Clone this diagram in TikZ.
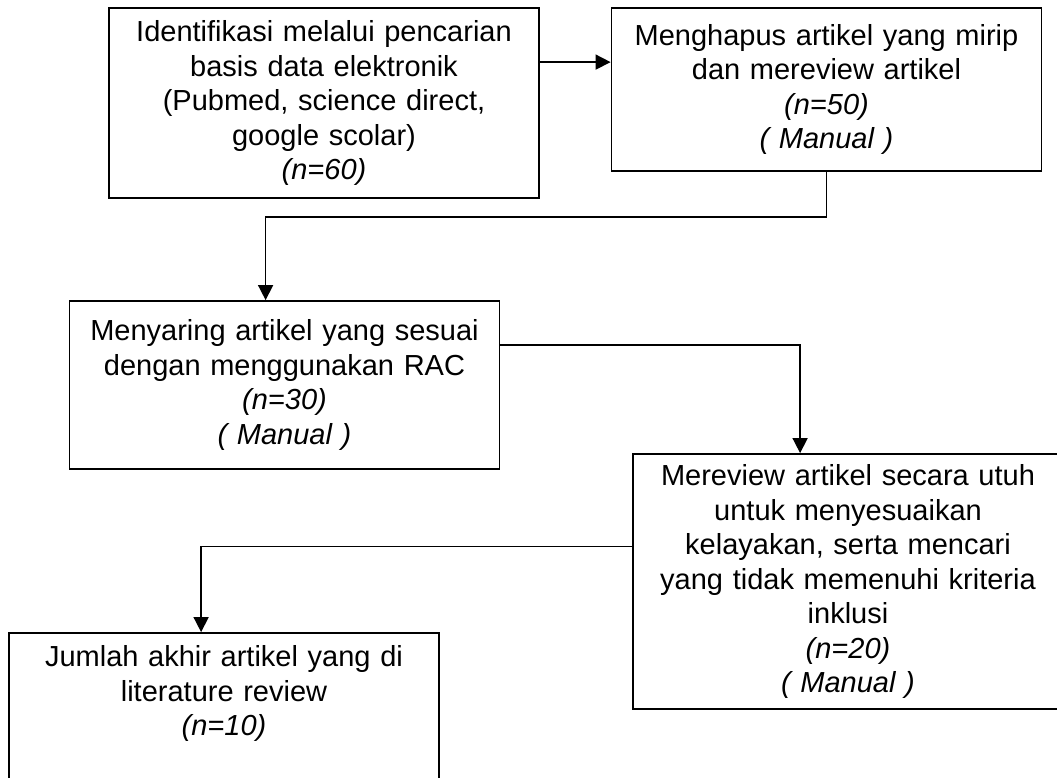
\documentclass[tikz,border=0pt]{standalone}
\usepackage{fontspec}
\setmainfont{Liberation Sans}
\usetikzlibrary{arrows.meta,calc}
\begin{document}
\begin{tikzpicture}[x=1pt,y=1pt,
  flowbox/.style={draw=black,line width=1.8pt,rectangle,align=center,
    inner sep=2pt,text width=420pt,minimum width=430pt,
    font=\fontsize{29}{34.5}\selectfont},
  conn/.style={line width=1.6pt,-{Triangle[length=15pt,width=15pt]}}]
\useasboundingbox (0,0) rectangle (1057,-778);
\clip (0,0) rectangle (1057,-778);
\node[flowbox,minimum height=190pt] (b1) at (324,-103)
  {Identifikasi melalui pencarian\\basis data elektronik\\(Pubmed, science direct,\\google scolar)\\\textit{(n=60)}};
\node[flowbox,minimum height=163pt] (b2) at (826.5,-89.5)
  {Menghapus artikel yang mirip\\dan mereview artikel\\\textit{(n=50)}\\\textit{( Manual )}};
\node[flowbox,minimum height=168pt] (b3) at (284.5,-385)
  {Menyaring artikel yang sesuai\\dengan menggunakan RAC\\\textit{(n=30)}\\\textit{( Manual )}};
\node[flowbox,minimum height=255pt] (b4) at (848,-581.5)
  {Mereview artikel secara utuh\\untuk menyesuaikan\\kelayakan, serta mencari\\yang tidak memenuhi kriteria\\inklusi\\\textit{(n=20)}\\\textit{( Manual )}};
\node[flowbox,minimum height=150pt] (b5) at (224,-708)
  {Jumlah akhir artikel yang di\\literature review\\\textit{(n=10)}\\\mbox{}};
\draw[conn] ($(b1.north east)+(0,-55)$) -- ($(b2.north west)+(0,-55)$);
\draw[conn] (b2.south) -- ++(0,-45) -| ($(b3.north west)+(197,0)$);
\draw[conn] ($(b3.east)+(0,40)$) -| ($(b4.north west)+(168,0)$);
\draw[conn] ($(b4.west)+(0,35)$) -| ($(b5.north west)+(193,0)$);
\end{tikzpicture}
\end{document}
